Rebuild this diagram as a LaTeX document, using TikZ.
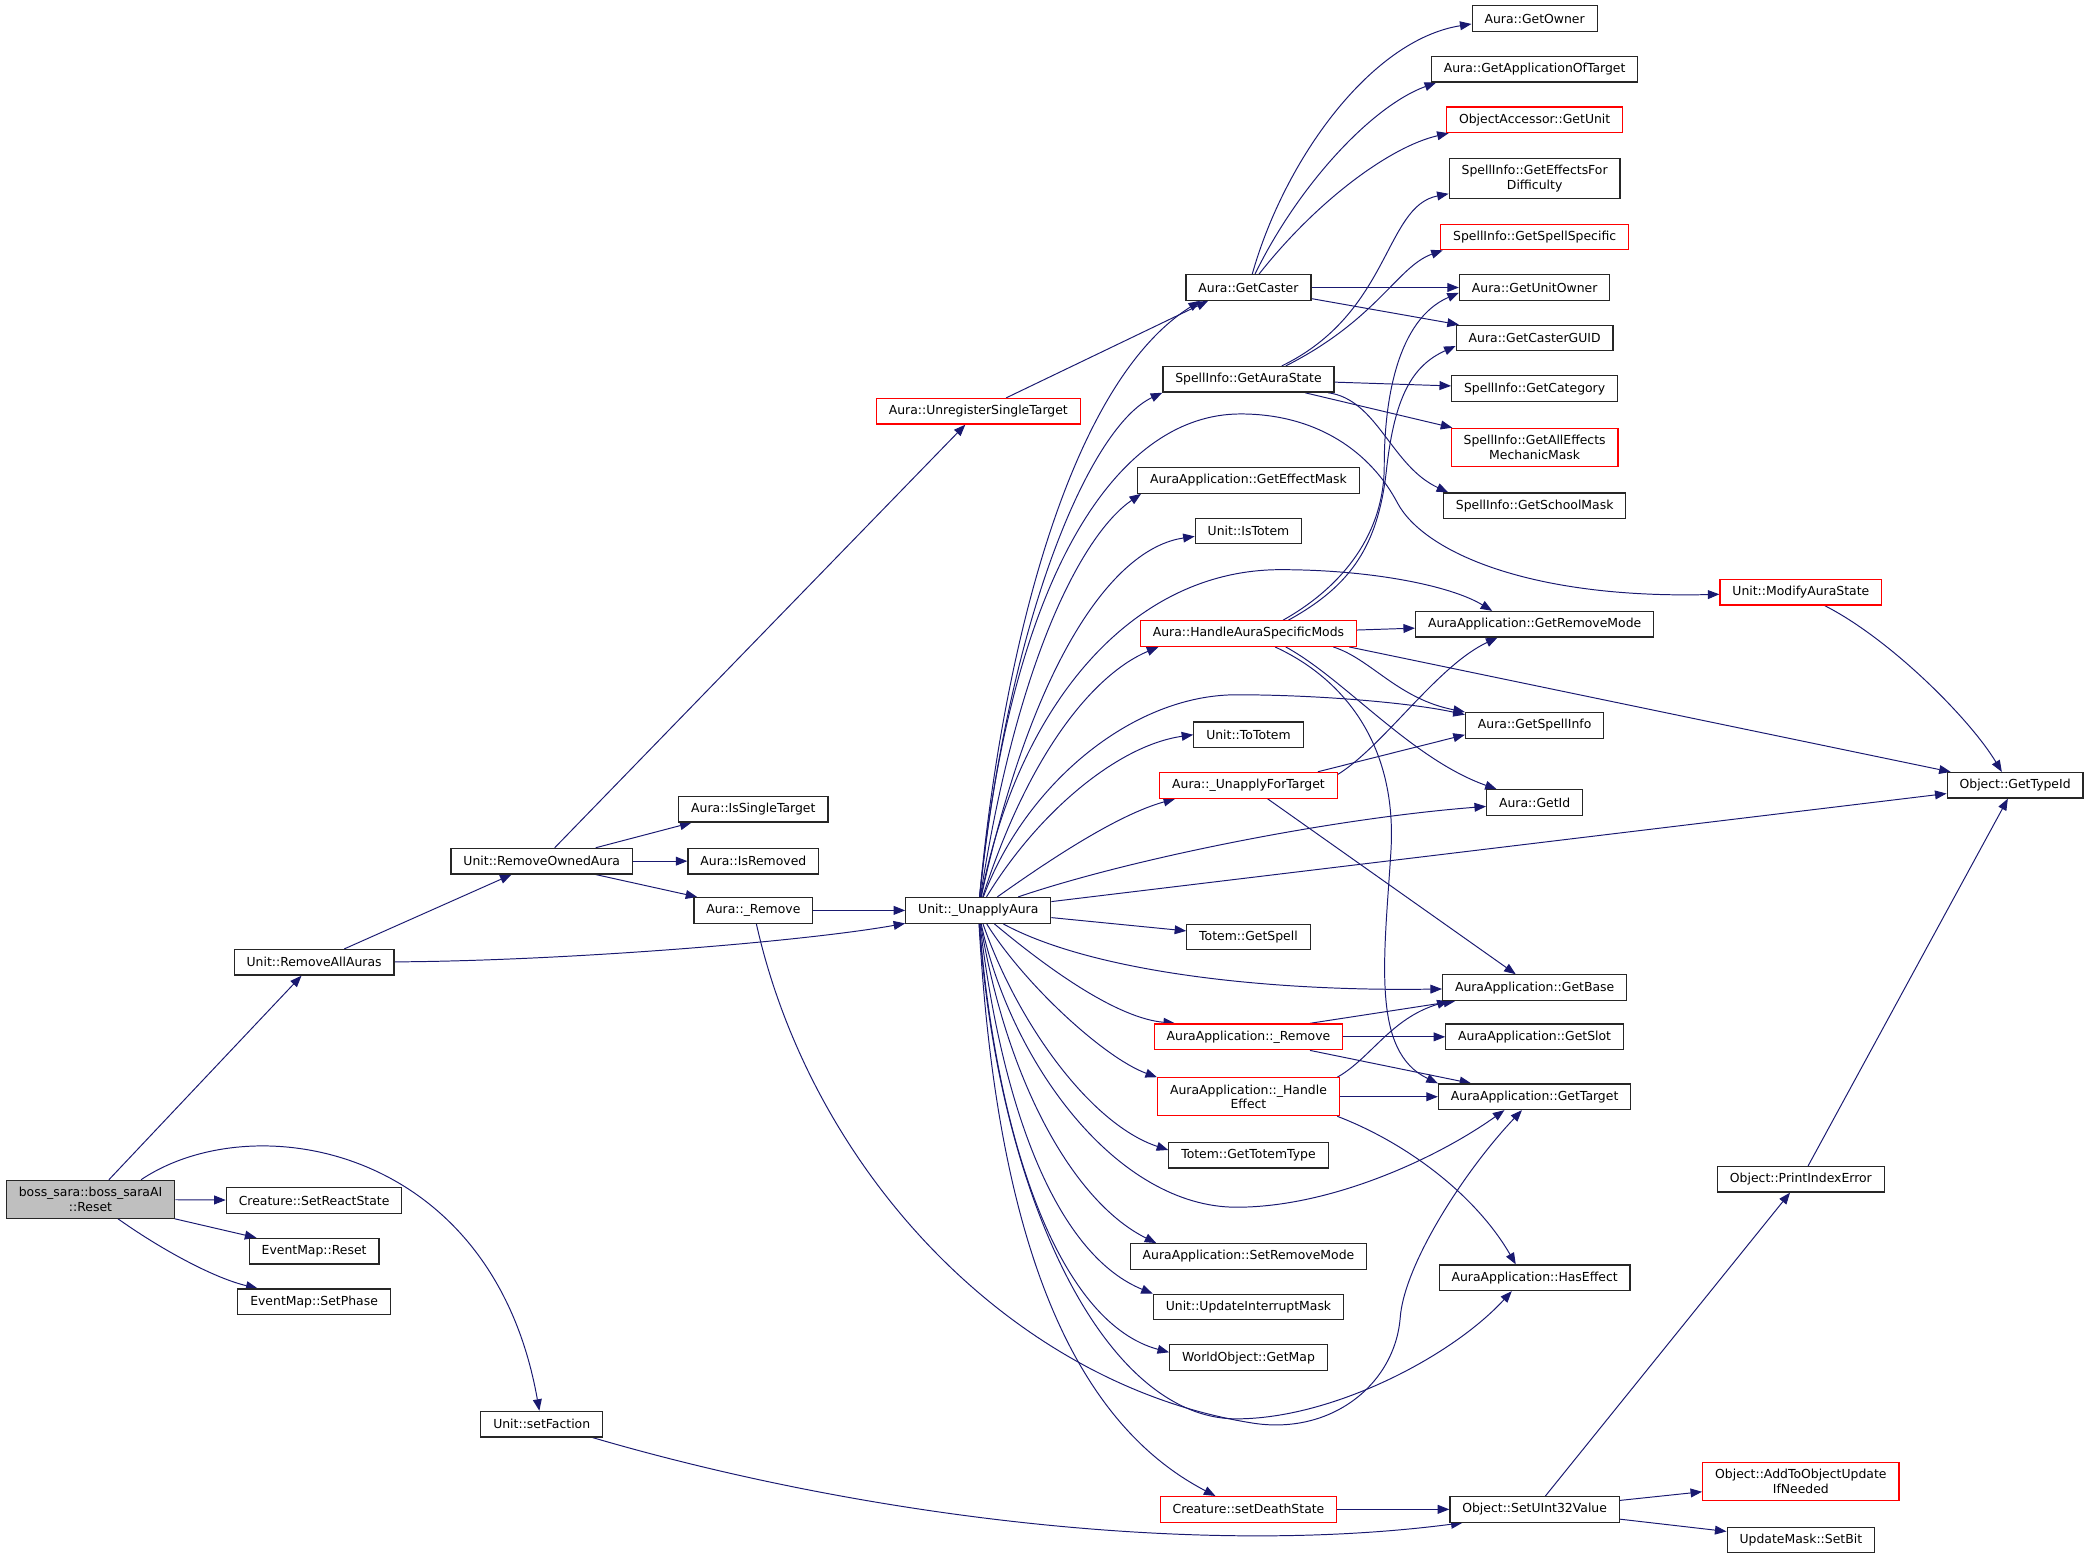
\documentclass[tikz,border=0pt]{standalone}
\usepackage{fontspec}
\setmainfont{DejaVu Sans}
\usepackage{tikz}
\usetikzlibrary{arrows.meta,calc,backgrounds}
\definecolor{edgecolor}{RGB}{25,25,112}
\definecolor{rootcolor}{RGB}{191,191,191}

\begin{document}
\begin{tikzpicture}[
    x=0.75pt, y=-0.75pt,
    font=\fontsize{7}{8.3}\selectfont,
    func/.style={rectangle, draw=black!85, line width=0.7pt, fill=white, inner xsep=7pt, inner ysep=3.8pt, minimum height=14.4pt, align=center},
    funcred/.style={func, draw=red},
    funcroot/.style={func, fill=rootcolor},
    arrow/.style={-{Triangle[length=6.5pt,width=5pt]}, draw=edgecolor, line width=0.55pt}
]
    \useasboundingbox (0,0) rectangle (1568,1171);

    % Caller
    \node[funcroot] (boss) at (68,901) {boss\_sara::boss\_saraAI\\::Reset};

    % Second column
    \node[func] (remall) at (236,723) {Unit::RemoveAllAuras};
    \node[func] (react) at (236,902) {Creature::SetReactState};
    \node[func] (evreset) at (236,940) {EventMap::Reset};
    \node[func] (evphase) at (236,978) {EventMap::SetPhase};
    \node[func] (remowned) at (407,647) {Unit::RemoveOwnedAura};
    \node[func] (faction) at (407,1070) {Unit::setFaction};
    \node[func] (single) at (566,608) {Aura::IsSingleTarget};
    \node[func] (removed) at (566,647) {Aura::IsRemoved};
    \node[func] (aremove) at (566,684) {Aura::\_Remove};
    \node[funcred] (unreg) at (735,309) {Aura::UnregisterSingleTarget};
    \node[func] (unapply) at (735,684) {Unit::\_UnapplyAura};

    % Middle column
    \node[func] (caster) at (938,216) {Aura::GetCaster};
    \node[func] (aurastate) at (938,285) {SpellInfo::GetAuraState};
    \node[func] (effmask) at (938,361) {AuraApplication::GetEffectMask};
    \node[func] (istotem) at (938,399) {Unit::IsTotem};
    \node[funcred] (hasm) at (938,476) {Aura::HandleAuraSpecificMods};
    \node[func] (tototem) at (938,552) {Unit::ToTotem};
    \node[funcred] (unapplyfor) at (938,590) {Aura::\_UnapplyForTarget};
    \node[func] (getspell) at (938,704) {Totem::GetSpell};
    \node[funcred] (appremove) at (938,779) {AuraApplication::\_Remove};
    \node[funcred] (handle) at (938,824) {AuraApplication::\_Handle\\Effect};
    \node[func] (totemtype) at (938,868) {Totem::GetTotemType};
    \node[func] (setremove) at (938,944) {AuraApplication::SetRemoveMode};
    \node[func] (interrupt) at (938,982) {Unit::UpdateInterruptMask};
    \node[func] (getmap) at (938,1020) {WorldObject::GetMap};
    \node[funcred] (death) at (938,1134) {Creature::setDeathState};

    % Right column
    \node[func] (owner) at (1153,14) {Aura::GetOwner};
    \node[func] (appoftarget) at (1153,52) {Aura::GetApplicationOfTarget};
    \node[funcred] (getunit) at (1153,90) {ObjectAccessor::GetUnit};
    \node[func] (effdiff) at (1153,134) {SpellInfo::GetEffectsFor\\Difficulty};
    \node[funcred] (specific) at (1153,178) {SpellInfo::GetSpellSpecific};
    \node[func] (unitowner) at (1153,216) {Aura::GetUnitOwner};
    \node[func] (casterguid) at (1153,254) {Aura::GetCasterGUID};
    \node[func] (category) at (1153,292) {SpellInfo::GetCategory};
    \node[funcred] (mechmask) at (1153,336) {SpellInfo::GetAllEffects\\MechanicMask};
    \node[func] (school) at (1153,380) {SpellInfo::GetSchoolMask};
    \node[func] (removemode) at (1153,469) {AuraApplication::GetRemoveMode};
    \node[func] (spellinfo) at (1153,545) {Aura::GetSpellInfo};
    \node[func] (getid) at (1153,603) {Aura::GetId};
    \node[func] (base) at (1153,742) {AuraApplication::GetBase};
    \node[func] (slot) at (1153,779) {AuraApplication::GetSlot};
    \node[func] (target) at (1153,824) {AuraApplication::GetTarget};
    \node[func] (haseffect) at (1153,960) {AuraApplication::HasEffect};
    \node[func] (setuint) at (1153,1134) {Object::SetUInt32Value};

    % Far right
    \node[funcred] (modstate) at (1353,445) {Unit::ModifyAuraState};
    \node[func] (printerr) at (1353,886) {Object::PrintIndexError};
    \node[funcred] (addupdate) at (1353,1113) {Object::AddToObjectUpdate\\IfNeeded};
    \node[func] (setbit) at (1353,1157) {UpdateMask::SetBit};
    \node[func] (typeid) at (1514,590) {Object::GetTypeId};

    \begin{scope}[on background layer]
    % Calls from Reset
    \draw[arrow] (boss) -- (remall);
    \draw[arrow] (boss) -- (react);
    \draw[arrow] (boss) -- (evreset);
    \draw[arrow] (boss) .. controls (120,938) and (160,960) .. (evphase);
    \draw[arrow] ($(boss.north)+(38,0)$) .. controls (190,830) and (370,860) .. (faction);

    % RemoveAllAuras, RemoveOwnedAura
    \draw[arrow] (remall) -- (remowned);
    \draw[arrow] (remall) .. controls (420,722) and (600,708) .. (unapply);
    \draw[arrow] (remowned) -- (unreg);
    \draw[arrow] ($(remowned.north east)+(-28,0)$) -- ($(single.south west)+(10,0)$);
    \draw[arrow] (remowned) -- (removed);
    \draw[arrow] ($(remowned.south east)+(-28,0)$) -- ($(aremove.north west)+(3,0)$);
    \draw[arrow] (unreg) -- ($(caster.south west)+(17,0)$);

    % Aura::_Remove
    \draw[arrow] (aremove) -- (unapply);
    \draw[arrow] (aremove) .. controls (610,880) and (760,1040) .. (940,1069) .. controls (1000,1079) and (1048,1040) .. (1052,990) .. controls (1055,950) and (1100,880) .. (target);

    % Unit::_UnapplyAura, upwards
    \draw[arrow] (unapply) .. controls (752,500) and (800,290) .. ($(caster.south west)+(11,0)$);
    \draw[arrow] (unapply) .. controls (758,460) and (820,320) .. (aurastate.south west);
    \draw[arrow] (unapply) .. controls (760,430) and (840,311) .. (932,311) .. controls (990,311) and (1030,340) .. (1050,378) .. controls (1070,415) and (1150,450) .. (modstate);
    \draw[arrow] (unapply) .. controls (765,490) and (815,400) .. ($(effmask.south west)+(3,0)$);
    \draw[arrow] (unapply) .. controls (775,500) and (835,412) .. ($(istotem.west)+(0,4)$);
    \draw[arrow] (unapply) .. controls (775,560) and (825,505) .. ($(hasm.south west)+(14,0)$);
    \draw[arrow] (unapply) .. controls (765,530) and (850,428) .. (962,428) .. controls (1030,428) and (1090,440) .. ($(removemode.north west)+(58,0)$);
    \draw[arrow] (unapply) .. controls (770,590) and (850,522) .. (929,522) .. controls (990,522) and (1060,528) .. ($(spellinfo.north west)+(0,2)$);
    \draw[arrow] (unapply) .. controls (780,610) and (840,560) .. (tototem.west);
    \draw[arrow] (unapply) .. controls (790,645) and (840,612) .. ($(unapplyfor.south west)+(12,0)$);
    \draw[arrow] (unapply) .. controls (850,645) and (1000,615) .. (getid);
    \draw[arrow] (unapply) -- (typeid);
    \draw[arrow] (unapply) -- (getspell);

    % Unit::_UnapplyAura, downwards
    \draw[arrow] (unapply) .. controls (820,730) and (950,745) .. (base);
    \draw[arrow] (unapply) .. controls (790,730) and (840,765) .. ($(appremove.north west)+(16,0)$);
    \draw[arrow] (unapply) .. controls (770,740) and (830,795) .. (handle.north west);
    \draw[arrow] (unapply) .. controls (765,770) and (820,845) .. ($(totemtype.west)+(0,-4)$);
    \draw[arrow] (unapply) .. controls (760,800) and (840,907) .. (929,907) .. controls (1000,907) and (1080,870) .. ($(target.south west)+(50,0)$);
    \draw[arrow] (unapply) .. controls (758,820) and (810,905) .. ($(setremove.north west)+(20,0)$);
    \draw[arrow] (unapply) .. controls (755,850) and (800,945) .. (interrupt.north west);
    \draw[arrow] (unapply) .. controls (750,870) and (800,995) .. ($(getmap.west)+(0,-4)$);
    \draw[arrow] (unapply) .. controls (750,900) and (830,1066) .. (929,1066) .. controls (1000,1066) and (1090,1020) .. ($(haseffect.south west)+(55,0)$);
    \draw[arrow] (unapply) .. controls (748,920) and (800,1065) .. ($(death.north west)+(42,0)$);

    % Aura::GetCaster
    \draw[arrow] (caster) .. controls (965,120) and (1030,30) .. ($(owner.west)+(0,4)$);
    \draw[arrow] (caster) .. controls (975,140) and (1030,80) .. ($(appoftarget.south west)+(4,0)$);
    \draw[arrow] (caster) .. controls (990,150) and (1045,110) .. ($(getunit.south west)+(2,0)$);
    \draw[arrow] (caster) -- (unitowner);
    \draw[arrow] (caster) -- (casterguid);

    % SpellInfo::GetAuraState
    \draw[arrow] ($(aurastate.north)+(25,0)$) .. controls (1045,235) and (1040,155) .. ($(effdiff.south west)+(0,-4)$);
    \draw[arrow] ($(aurastate.north)+(28,0)$) .. controls (1035,240) and (1050,200) .. ($(specific.south west)+(2,0)$);
    \draw[arrow] (aurastate) -- (category);
    \draw[arrow] (aurastate) -- (mechmask);
    \draw[arrow] ($(aurastate.south east)+(-5,0)$) .. controls (1035,300) and (1045,350) .. ($(school.north west)+(4,0)$);

    % Aura::HandleAuraSpecificMods
    \draw[arrow] ($(hasm.north)+(26,0)$) .. controls (1010,440) and (1040,400) .. (1040,350) .. controls (1040,300) and (1050,240) .. ($(unitowner.west)+(0,4)$);
    \draw[arrow] ($(hasm.north)+(30,0)$) .. controls (1015,440) and (1036,410) .. (1042,350) .. controls (1048,300) and (1060,275) .. ($(casterguid.west)+(0,6)$);
    \draw[arrow] (hasm) -- (removemode);
    \draw[arrow] ($(hasm.south east)+(-6,0)$) -- (typeid);
    \draw[arrow] ($(hasm.south east)+(-18,0)$) .. controls (1030,495) and (1050,525) .. (spellinfo.north west);
    \draw[arrow] ($(hasm.south)+(28,0)$) .. controls (1010,510) and (1060,570) .. ($(getid.north west)+(8,0)$);
    \draw[arrow] ($(hasm.south)+(20,0)$) .. controls (1010,510) and (1050,560) .. (1045,640) .. controls (1040,720) and (1030,790) .. (target.north west);

    % Aura::_UnapplyForTarget
    \draw[arrow] ($(unapplyfor.north east)+(0,2)$) .. controls (1040,560) and (1080,500) .. ($(removemode.south west)+(62,0)$);
    \draw[arrow] ($(unapplyfor.north east)+(-15,0)$) -- ($(spellinfo.south west)+(0,-3)$);
    \draw[arrow] (unapplyfor) -- (base);

    % AuraApplication::_Remove, _HandleEffect
    \draw[arrow] ($(appremove.north east)+(-25,0)$) -- ($(base.south west)+(10,0)$);
    \draw[arrow] (appremove) -- (slot);
    \draw[arrow] ($(appremove.south east)+(-25,0)$) -- ($(target.north west)+(25,0)$);
    \draw[arrow] ($(handle.north east)+(-2,0)$) .. controls (1030,795) and (1045,765) .. ($(base.south west)+(5,0)$);
    \draw[arrow] (handle) -- (target);
    \draw[arrow] ($(handle.south east)+(-2,0)$) .. controls (1060,860) and (1110,900) .. ($(haseffect.north west)+(58,0)$);

    % setFaction, setDeathState, SetUInt32Value
    \draw[arrow] ($(faction.south east)+(-8,0)$) .. controls (650,1140) and (900,1170) .. ($(setuint.south west)+(10,0)$);
    \draw[arrow] (death) -- (setuint);
    \draw[arrow] (setuint) -- (printerr);
    \draw[arrow] (setuint) -- (addupdate);
    \draw[arrow] (setuint) -- (setbit);
    \draw[arrow] (printerr) -- (typeid);
    \draw[arrow] ($(modstate.south)+(18,0)$) .. controls (1420,480) and (1480,540) .. ($(typeid.north)+(-10,0)$);
    \end{scope}
\end{tikzpicture}
\end{document}
